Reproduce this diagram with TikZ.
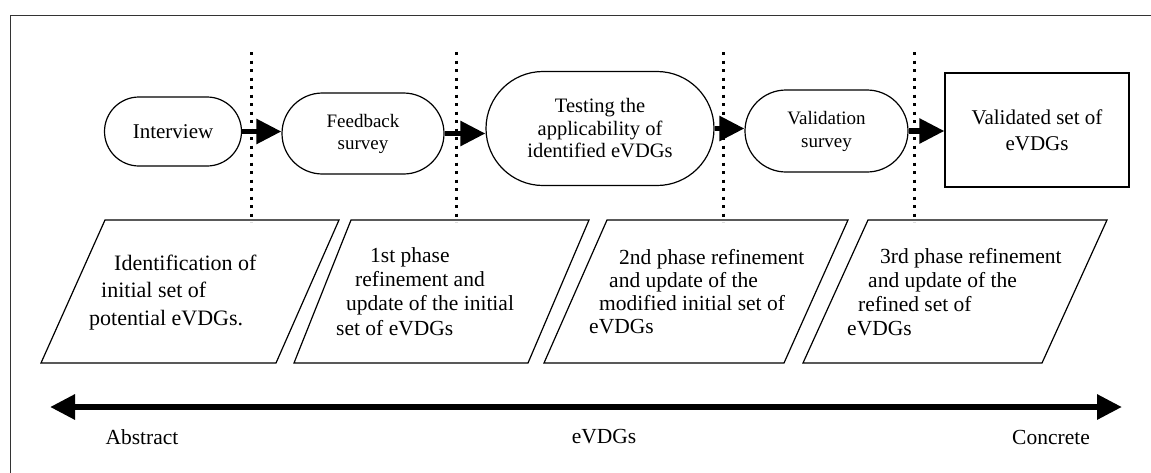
\documentclass[tikz,border=0pt]{standalone}
\usepackage{fontspec}
\setmainfont{Liberation Serif}
\usetikzlibrary{calc}
\usetikzlibrary{arrows.meta,shapes.misc}

\tikzset{
    stage/.style={draw, line width=1.2pt, rounded rectangle, align=center, inner sep=0pt},
    result/.style={draw, line width=1.2pt, rectangle, align=center, inner sep=0pt},
    flow/.style={line width=5.5pt, -{Triangle[length=25pt,width=24pt]}},
    phasebox/.style={line width=1.2pt, line join=miter},
    phasetext/.style={anchor=west, align=left, inner sep=0pt},
    divider/.style={line width=3pt, dash pattern=on 3pt off 5.5pt},
}

\begin{document}
\begin{tikzpicture}[x=1pt, y=-1pt]
    \useasboundingbox (0,0) rectangle (1151,472);

    % outer frame, cut at right and bottom
    \draw[black!80, line width=0.9pt] (1165,15) -- (10,15) -- (10,485);

    % dividers between steps
    \coordinate (D1a) at (251,52);
    \coordinate (D1b) at (251,222);
    \coordinate (D2a) at (456,52);
    \coordinate (D2b) at (456,222);
    \coordinate (D3a) at (723,52);
    \coordinate (D3b) at (723,222);
    \coordinate (D4a) at (914,52);
    \coordinate (D4b) at (914,222);
    \draw[divider] (D1a)--(D1b);
    \draw[divider] (D2a)--(D2b);
    \draw[divider] (D3a)--(D3b);
    \draw[divider] (D4a)--(D4b);

    % top row of steps
    \node[stage, minimum width=137pt, minimum height=69pt, font=\fontsize{21}{25}\selectfont]
        (intv) at (173,131.5) {Interview};
    \node[stage, minimum width=162pt, minimum height=81pt, font=\fontsize{19}{22}\selectfont]
        (fbsv) at (363,133.5) {Feedback\\survey};
    \node[stage, minimum width=228pt, minimum height=114pt, font=\fontsize{20.5}{22.5}\selectfont]
        (test) at (600,128.5) {Testing the\\applicability of\\identified eVDGs};
    \node[stage, minimum width=163pt, minimum height=82pt, font=\fontsize{19}{23}\selectfont]
        (vlsv) at (826.5,131) {Validation\\survey};
    \node[result, minimum width=184pt, minimum height=114pt, font=\fontsize{21}{26}\selectfont]
        (done) at (1037,130) {Validated set of\\eVDGs};

    % arrows between steps
    \draw[flow] (intv.east) -- (intv.east -| fbsv.west);
    \draw[flow] (fbsv.east) -- (fbsv.east -| test.west);
    \draw[flow] (test.east) -- (test.east -| vlsv.west);
    \draw[flow] (vlsv.east) -- (vlsv.east -| done.west);

    % phase parallelograms
    \coordinate (P1a) at (105,220);
    \coordinate (P1b) at (339,220);
    \coordinate (P1c) at (276,363);
    \coordinate (P1d) at (41,363);
    \coordinate (P2a) at (351,220);
    \coordinate (P2b) at (589,220);
    \coordinate (P2c) at (528,363);
    \coordinate (P2d) at (294,363);
    \coordinate (P3a) at (607,220);
    \coordinate (P3b) at (848,220);
    \coordinate (P3c) at (784,363);
    \coordinate (P3d) at (544,363);
    \coordinate (P4a) at (868,220);
    \coordinate (P4b) at (1107,220);
    \coordinate (P4c) at (1042,363);
    \coordinate (P4d) at (803,363);
    \draw[phasebox] (P1a)--(P1b)--(P1c)--(P1d)--cycle;
    \draw[phasebox] (P2a)--(P2b)--(P2c)--(P2d)--cycle;
    \draw[phasebox] (P3a)--(P3b)--(P3c)--(P3d)--cycle;
    \draw[phasebox] (P4a)--(P4b)--(P4c)--(P4d)--cycle;

    % phase texts, lines shifted along the slant
    \node[phasetext, font=\fontsize{22}{27.5}\selectfont] (ph1) at (89,292.5)
        {\hspace*{25pt}Identification of\\\hspace*{12pt}initial set of\\potential eVDGs.};
    \node[phasetext, font=\fontsize{21.5}{24.3}\selectfont] (ph2) at (336,291.5)
        {\hspace*{34pt}1st phase\\\hspace*{19pt}refinement and\\\hspace*{10pt}update of the initial\\set of eVDGs};
    \node[phasetext, font=\fontsize{21.5}{23}\selectfont] (ph3) at (589,292)
        {\hspace*{30pt}2nd phase refinement\\\hspace*{20pt}and update of the\\\hspace*{10pt}modified initial set of\\eVDGs};
    \node[phasetext, font=\fontsize{21.5}{24}\selectfont] (ph4) at (847,292)
        {\hspace*{33pt}3rd phase refinement\\\hspace*{21pt}and update of the\\\hspace*{11pt}refined set of\\eVDGs};

    % abstract to concrete scale
    \coordinate (Lend) at (50,407);
    \coordinate (Rend) at (1122,407);
    \draw[line width=6pt, {Triangle[length=25pt,width=24pt]}-{Triangle[length=25pt,width=24pt]}]
        (Lend) -- (Rend);
    \node[font=\fontsize{21.5}{25}\selectfont] (abst) at (142,437) {Abstract};
    \node[font=\fontsize{21.5}{25}\selectfont] (evdg) at (604,437) {eVDGs};
    \node[font=\fontsize{21.5}{25}\selectfont] (conc) at (1051,437) {Concrete};
\end{tikzpicture}
\end{document}
